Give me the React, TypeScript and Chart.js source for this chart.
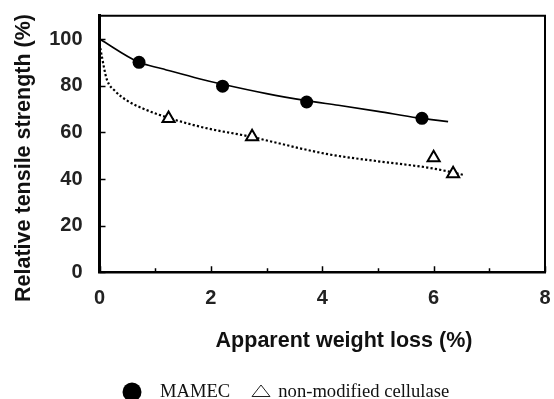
import React, { useEffect, useRef } from 'react';
import { Chart, registerables } from 'chart.js';

Chart.register(...registerables);

// Measured points
const mamecX = [0.71, 2.21, 3.72, 5.79];
const mamecY = [90.0, 79.8, 73.0, 66.0];
const nonModX = [1.24, 2.74, 6.0, 6.35];
const nonModY = [65.9, 58.1, 49.1, 42.2];

// Fitted trend curves
const mamecFitX = [0, 0.71, 1.11, 1.79, 2.21, 3.0, 3.72, 4.29, 5.0, 5.71, 6.26];
const mamecFitY = [100, 90.0, 87.4, 83.0, 80.6, 76.6, 73.6, 71.6, 69.0, 66.2, 64.6];
const nonModFitX = [0, 0.04, 0.13, 0.28, 0.51, 0.81, 1.24, 1.88, 2.74, 3.04, 4.11, 5.0, 5.89, 6.25, 6.55];
const nonModFitY = [98, 92.8, 82.8, 77.7, 73.4, 69.9, 66.2, 62.0, 58.0, 56.3, 50.6, 47.6, 44.9, 43.3, 41.7];

const xTicks = [0, 2, 4, 6, 8];
const xMinorTicks = [1, 3, 5, 7];
const yTicks = [0, 20, 40, 60, 80, 100];
const seriesLabels = ['MAMEC', 'non-modified cellulase'];
const xTitle = 'Apparent weight loss (%)';
const yTitle = 'Relative tensile strength (%)';

const toXY = (xs: number[], ys: number[]) => xs.map((x, i) => ({ x, y: ys[i] }));

const SANS = '"Liberation Sans", Arial, sans-serif';
const SERIF = '"Liberation Serif", "Times New Roman", serif';

const decorPlugin = {
  id: 'decor',
  afterDraw(chart: any) {
    const { ctx, chartArea, scales } = chart;
    const xs = scales.x;
    const ys = scales.y;
    ctx.save();
    ctx.strokeStyle = '#000';
    // top and right frame
    ctx.lineWidth = 2;
    ctx.beginPath();
    ctx.moveTo(chartArea.left, chartArea.top);
    ctx.lineTo(chartArea.right, chartArea.top);
    ctx.lineTo(chartArea.right, chartArea.bottom);
    ctx.stroke();
    // inward ticks
    ctx.lineWidth = 1.5;
    ctx.beginPath();
    xTicks.forEach((v) => {
      const px = Math.round(xs.getPixelForValue(v)) + 0.5;
      ctx.moveTo(px, chartArea.bottom);
      ctx.lineTo(px, chartArea.bottom - 6);
    });
    xMinorTicks.forEach((v) => {
      const px = Math.round(xs.getPixelForValue(v)) + 0.5;
      ctx.moveTo(px, chartArea.bottom);
      ctx.lineTo(px, chartArea.bottom - 4);
    });
    yTicks.forEach((v) => {
      const py = Math.round(ys.getPixelForValue(v)) + 0.5;
      ctx.moveTo(chartArea.left, py);
      ctx.lineTo(chartArea.left + 6, py);
    });
    ctx.stroke();

    // axis titles
    ctx.fillStyle = '#111';
    ctx.font = `bold 21.5px ${SANS}`;
    ctx.textAlign = 'center';
    ctx.textBaseline = 'middle';
    ctx.fillText(xTitle, 344, 341);
    ctx.save();
    ctx.translate(24, 158);
    ctx.rotate(-Math.PI / 2);
    ctx.fillText(yTitle, 0, 0);
    ctx.restore();

    // legend
    ctx.fillStyle = '#000';
    ctx.beginPath();
    ctx.arc(132, 392, 9.5, 0, Math.PI * 2);
    ctx.fill();
    ctx.lineWidth = 1;
    ctx.strokeStyle = '#222';
    ctx.beginPath();
    ctx.moveTo(261, 385);
    ctx.lineTo(270, 396.5);
    ctx.lineTo(252, 396.5);
    ctx.closePath();
    ctx.stroke();
    ctx.fillStyle = '#111';
    ctx.font = `18.6px ${SERIF}`;
    ctx.textAlign = 'left';
    ctx.textBaseline = 'alphabetic';
    ctx.fillText(seriesLabels[0], 160, 397.3);
    ctx.fillText(seriesLabels[1], 278.3, 397.3);
    ctx.restore();
  },
};

export default function App() {
  const ref = useRef<HTMLCanvasElement | null>(null);

  useEffect(() => {
    if (!ref.current) return;
    const chart = new Chart(ref.current, {
      type: 'scatter',
      data: {
        datasets: [
          {
            label: seriesLabels[0],
            data: toXY(mamecX, mamecY),
            pointStyle: 'circle',
            pointRadius: 6.5,
            pointBackgroundColor: '#000',
            pointBorderColor: '#000',
            pointBorderWidth: 0,
            showLine: false,
            order: 0,
          },
          {
            label: seriesLabels[1],
            data: toXY(nonModX, nonModY),
            pointStyle: 'triangle',
            pointRadius: 7,
            pointBackgroundColor: '#fff',
            pointBorderColor: '#000',
            pointBorderWidth: 2,
            showLine: false,
            order: 0,
          },
          {
            label: 'MAMEC fit',
            data: toXY(mamecFitX, mamecFitY),
            showLine: true,
            pointRadius: 0,
            borderColor: '#000',
            borderWidth: 1.6,
            cubicInterpolationMode: 'monotone',
            order: 1,
          },
          {
            label: 'non-modified fit',
            data: toXY(nonModFitX, nonModFitY),
            showLine: true,
            pointRadius: 0,
            borderColor: '#000',
            borderWidth: 2.2,
            borderDash: [2.2, 2.2],
            cubicInterpolationMode: 'monotone',
            order: 1,
          },
        ],
      },
      options: {
        animation: false,
        responsive: false,
        layout: { padding: { left: 0, right: 5.7, top: 15.7, bottom: 76.7 } },
        plugins: {
          legend: { display: false },
          tooltip: { enabled: false },
        },
        scales: {
          x: {
            type: 'linear',
            min: 0,
            max: 8,
            afterBuildTicks: (s: any) => {
              s.ticks = xTicks.map((v) => ({ value: v }));
            },
            afterFit: (s: any) => {
              s.height = 50;
              s.paddingLeft = 0;
              s.paddingRight = 0;
              s.paddingTop = 0;
              s.paddingBottom = 0;
            },
            grid: { display: false, drawTicks: false },
            border: { display: true, color: '#000', width: 2.5 },
            ticks: {
              padding: 14,
              color: '#222',
              font: { family: SANS, size: 20, weight: 'bold' },
              maxRotation: 0,
            },
          },
          y: {
            type: 'linear',
            min: 0,
            max: 110,
            afterBuildTicks: (s: any) => {
              s.ticks = yTicks.map((v) => ({ value: v }));
            },
            afterFit: (s: any) => {
              s.width = 99.5;
              s.paddingLeft = 0;
              s.paddingRight = 0;
              s.paddingTop = 0;
              s.paddingBottom = 0;
            },
            grid: { display: false, drawTicks: false },
            border: { display: true, color: '#000', width: 3 },
            ticks: {
              padding: 17,
              color: '#222',
              font: { family: SANS, size: 20, weight: 'bold' },
            },
          },
        },
      },
      plugins: [decorPlugin],
    });
    return () => chart.destroy();
  }, []);

  return (
    <div style={{ position: 'fixed', left: 0, top: 0, width: 554, height: 399, background: '#fff' }}>
      <canvas ref={ref} width={554} height={399} style={{ width: 554, height: 399, display: 'block' }} />
    </div>
  );
}
